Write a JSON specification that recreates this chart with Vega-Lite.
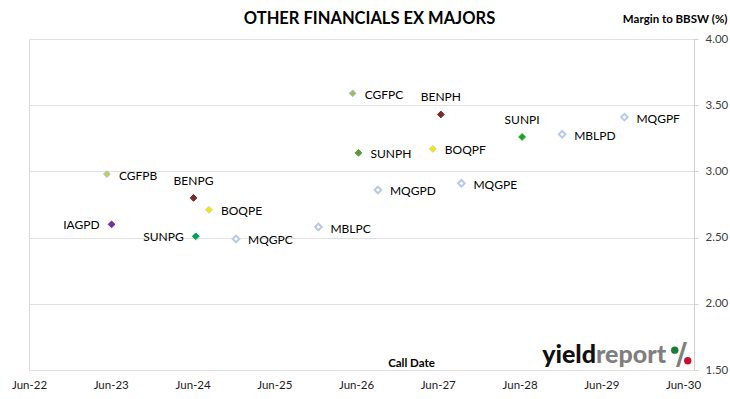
{
  "$schema": "https://vega.github.io/schema/vega-lite/v6.json",
  "autosize": {"type": "none"},
  "width": 665,
  "height": 331,
  "padding": {"left": 29, "top": 39, "right": 36, "bottom": 29},
  "background": "white",
  "config": {
    "font": "Lato",
    "view": {"stroke": "#d9d9d9", "strokeWidth": 1},
    "axis": {"labelFont": "Lato", "titleFont": "Lato"}
  },
  "title": {
    "text": "OTHER FINANCIALS EX MAJORS",
    "font": "Lato",
    "fontSize": 16.5,
    "fontWeight": "bold",
    "color": "#000000",
    "anchor": "middle",
    "dx": 8,
    "offset": -14
  },
  "datasets": {
    "hybrids": [
      {"name": "CGFPB", "date": "2023-05-15", "margin": 2.98},
      {"name": "IAGPD", "date": "2023-06-05", "margin": 2.6},
      {"name": "BENPG", "date": "2024-06-05", "margin": 2.8},
      {"name": "SUNPG", "date": "2024-06-15", "margin": 2.51},
      {"name": "BOQPE", "date": "2024-08-13", "margin": 2.71},
      {"name": "MQGPC", "date": "2024-12-12", "margin": 2.49},
      {"name": "MBLPC", "date": "2025-12-15", "margin": 2.58},
      {"name": "CGFPC", "date": "2026-05-17", "margin": 3.59},
      {"name": "SUNPH", "date": "2026-06-12", "margin": 3.14},
      {"name": "MQGPD", "date": "2026-09-07", "margin": 2.86},
      {"name": "BOQPF", "date": "2027-05-10", "margin": 3.17},
      {"name": "BENPH", "date": "2027-06-15", "margin": 3.43},
      {"name": "MQGPE", "date": "2027-09-15", "margin": 2.91},
      {"name": "SUNPI", "date": "2028-06-12", "margin": 3.26},
      {"name": "MBLPD", "date": "2028-12-08", "margin": 3.28},
      {"name": "MQGPF", "date": "2029-09-12", "margin": 3.41}
    ]
  },
  "data": {"name": "hybrids"},
  "layer": [
    {
      "transform": [{"filter": {"field": "name", "oneOf": ["CGFPB", "CGFPC", "BENPG", "BENPH", "BOQPE", "BOQPF", "SUNPG", "SUNPH", "SUNPI", "IAGPD"]}}],
      "mark": {"type": "point", "shape": "diamond", "filled": false, "size": 46, "strokeWidth": 1, "opacity": 1},
      "encoding": {
        "x": {
          "field": "date",
          "type": "temporal",
          "scale": {
            "type": "utc",
            "domain": [
              {"year": 2022, "month": 6, "date": 1, "utc": true},
              {"year": 2030, "month": 7, "date": 20, "utc": true}
            ]
          },
          "axis": {
            "title": "Call Date",
            "titleFont": "Lato",
            "titleFontSize": 11.5,
            "titleFontWeight": "bold",
            "titleColor": "#000000",
            "titleAnchor": "start",
            "titleAlign": "center",
            "titleBaseline": "middle",
            "titleX": 382,
            "titleY": -7,
            "values": [
              {"year": 2022, "month": 6, "date": 1, "utc": true},
              {"year": 2023, "month": 6, "date": 1, "utc": true},
              {"year": 2024, "month": 6, "date": 1, "utc": true},
              {"year": 2025, "month": 6, "date": 1, "utc": true},
              {"year": 2026, "month": 6, "date": 1, "utc": true},
              {"year": 2027, "month": 6, "date": 1, "utc": true},
              {"year": 2028, "month": 6, "date": 1, "utc": true},
              {"year": 2029, "month": 6, "date": 1, "utc": true},
              {"year": 2030, "month": 6, "date": 1, "utc": true}
            ],
            "labelExpr": "utcFormat(datum.value, '%b-%y')",
            "labelFontSize": 11.5,
            "labelColor": "#1a1a1a",
            "labelPadding": 9,
            "labelOverlap": false,
            "labelFlush": false,
            "ticks": false,
            "domain": false,
            "grid": false
          }
        },
        "y": {
          "field": "margin",
          "type": "quantitative",
          "scale": {"domain": [1.5, 4], "zero": false, "nice": false},
          "axis": {
            "orient": "right",
            "title": "Margin to BBSW (%)",
            "titleFont": "Lato",
            "titleFontSize": 11.5,
            "titleFontWeight": "bold",
            "titleColor": "#000000",
            "titleAngle": 0,
            "titleAlign": "right",
            "titleBaseline": "middle",
            "titleX": 33,
            "titleY": -20,
            "values": [1.5, 1.75, 2, 2.25, 2.5, 2.75, 3, 3.25, 3.5, 3.75, 4],
            "format": ".2f",
            "labelFontSize": 11.5,
            "labelColor": "#404040",
            "labelPadding": 7,
            "tickSize": 4,
            "tickColor": "#d0d0d0",
            "domainColor": "#d0d0d0",
            "grid": true,
            "gridColor": "#e0e0e0",
            "gridWidth": 1
          }
        },
        "fill": {
          "field": "name",
          "type": "nominal",
          "legend": null,
          "scale": {
            "domain": ["CGFPB", "CGFPC", "BENPG", "BENPH", "BOQPE", "BOQPF", "SUNPG", "SUNPH", "SUNPI", "IAGPD"],
            "range": ["#c4cc52", "#a8ba58", "#7a2a2a", "#7a2a2a", "#f5e800", "#f5e800", "#00a550", "#5a9a3a", "#1fa31f", "#7030a0"]
          }
        },
        "stroke": {
          "field": "name",
          "type": "nominal",
          "legend": null,
          "scale": {
            "domain": ["CGFPB", "CGFPC", "BENPG", "BENPH", "BOQPE", "BOQPF", "SUNPG", "SUNPH", "SUNPI", "IAGPD"],
            "range": ["#9dbde6", "#9dbde6", "#7a2a2a", "#7a2a2a", "#cfcdaa", "#cfcdaa", "#00a550", "#5a9a3a", "#1fa31f", "#7030a0"]
          }
        }
      }
    },
    {
      "transform": [{"filter": {"field": "name", "oneOf": ["MQGPC", "MQGPD", "MQGPE", "MQGPF", "MBLPC", "MBLPD"]}}],
      "mark": {"type": "point", "shape": "diamond", "filled": false, "size": 44, "strokeWidth": 2, "color": "#b8cae8", "fill": "#ffffff", "opacity": 1},
      "encoding": {
        "x": {"field": "date", "type": "temporal"},
        "y": {"field": "margin", "type": "quantitative"}
      }
    },
    {
      "transform": [{"filter": {"field": "name", "oneOf": ["CGFPB", "BOQPE", "MQGPC", "MBLPC", "CGFPC", "SUNPH", "MQGPD", "BOQPF", "MQGPE", "MBLPD", "MQGPF"]}}],
      "mark": {"type": "text", "align": "left", "baseline": "middle", "dx": 12, "dy": 1.5, "fontSize": 12, "font": "Lato", "color": "#000000"},
      "encoding": {
        "x": {"field": "date", "type": "temporal"},
        "y": {"field": "margin", "type": "quantitative"},
        "text": {"field": "name"}
      }
    },
    {
      "transform": [{"filter": {"field": "name", "oneOf": ["BENPG", "BENPH", "SUNPI"]}}],
      "mark": {"type": "text", "align": "center", "baseline": "middle", "dy": -17, "fontSize": 12, "font": "Lato", "color": "#000000"},
      "encoding": {
        "x": {"field": "date", "type": "temporal"},
        "y": {"field": "margin", "type": "quantitative"},
        "text": {"field": "name"}
      }
    },
    {
      "transform": [{"filter": {"field": "name", "oneOf": ["IAGPD", "SUNPG"]}}],
      "mark": {"type": "text", "align": "right", "baseline": "middle", "dx": -12, "dy": 1, "fontSize": 12, "font": "Lato", "color": "#000000"},
      "encoding": {
        "x": {"field": "date", "type": "temporal"},
        "y": {"field": "margin", "type": "quantitative"},
        "text": {"field": "name"}
      }
    },
    {
      "data": {"values": [{"t": "yield"}]},
      "mark": {"type": "text", "align": "right", "baseline": "alphabetic", "fontSize": 25, "font": "Lato", "fontWeight": 900, "color": "#111111"},
      "encoding": {
        "x": {"datum": {"year": 2029, "month": 5, "date": 8, "utc": true}, "type": "temporal"},
        "y": {"datum": 1.55, "type": "quantitative"},
        "text": {"field": "t"}
      }
    },
    {
      "data": {"values": [{"t": "report"}]},
      "mark": {"type": "text", "align": "left", "baseline": "alphabetic", "fontSize": 25, "font": "Lato", "fontWeight": 900, "color": "#7f7f7f"},
      "encoding": {
        "x": {"datum": {"year": 2029, "month": 5, "date": 8, "utc": true}, "type": "temporal"},
        "y": {"datum": 1.55, "type": "quantitative"},
        "text": {"field": "t"}
      }
    },
    {
      "data": {"values": [{"t": "/"}]},
      "mark": {"type": "text", "align": "center", "baseline": "middle", "fontSize": 30, "font": "DejaVu Sans", "fontWeight": "bold", "color": "#7f7f7f"},
      "encoding": {
        "x": {"datum": {"year": 2030, "month": 5, "date": 25, "utc": true}, "type": "temporal"},
        "y": {"datum": 1.61, "type": "quantitative"},
        "text": {"field": "t"}
      }
    },
    {
      "data": {"values": [{"c": "top"}]},
      "mark": {"type": "point", "shape": "circle", "filled": true, "size": 55, "color": "#1f7a3c", "opacity": 1},
      "encoding": {
        "x": {"datum": {"year": 2030, "month": 4, "date": 25, "utc": true}, "type": "temporal"},
        "y": {"datum": 1.65, "type": "quantitative"}
      }
    },
    {
      "data": {"values": [{"c": "bottom"}]},
      "mark": {"type": "point", "shape": "circle", "filled": true, "size": 55, "color": "#c8102e", "opacity": 1},
      "encoding": {
        "x": {"datum": {"year": 2030, "month": 6, "date": 22, "utc": true}, "type": "temporal"},
        "y": {"datum": 1.57, "type": "quantitative"}
      }
    }
  ]
}
